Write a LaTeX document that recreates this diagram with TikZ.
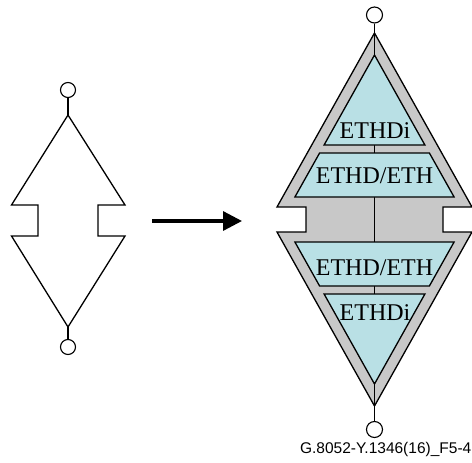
\documentclass[tikz,border=0pt]{standalone}
\usepackage{fontspec}
\setmainfont{Liberation Serif}
\newfontfamily\capfont{Liberation Sans}
\usetikzlibrary{arrows.meta}
\definecolor{bandgray}{RGB}{200,200,200}
\definecolor{layerblue}{RGB}{185,224,229}
\begin{document}
\begin{tikzpicture}[x=1pt,y=-1pt,
  outline/.style={draw=black,line width=1.3pt,line join=miter},
  term/.style={circle,draw=black,line width=1.1pt,fill=white,minimum size=15pt,inner sep=0pt},
  wire/.style={draw=black,line width=1.1pt},
  band/.style={outline,fill=bandgray},
  layer/.style={outline,fill=layerblue},
  lbl/.style={font=\fontsize{24}{24}\selectfont,inner sep=0pt,anchor=base},
  arrowline/.style={line width=3.3pt,-{Triangle[length=19pt,width=19pt]}}]
\useasboundingbox (0,0) rectangle (472,463);

% ---------- left shape ----------
\coordinate (Ltop) at (68,115);
\coordinate (Lbot) at (68,327);
\draw[outline] (Ltop) -- (125,205) -- (98,205) -- (98,236) -- (125,236) -- (Lbot)
  -- (11.5,236) -- (38,236) -- (38,205) -- (11.5,205) -- cycle;
\node[term] (Lc1) at (68,90) {};
\node[term] (Lc2) at (68,347) {};
\draw[wire] (Lc1) -- (Ltop);
\draw[wire] (Lbot) -- (Lc2);

% ---------- arrow ----------
\coordinate (As) at (152,221);
\coordinate (Ae) at (242,221);
\draw[arrowline] (As) -- (Ae);

% ---------- right shape ----------
\coordinate (Rtop) at (374.5,33);
\coordinate (Rbot) at (374.5,406);
\draw[band] (Rtop) -- (472,207) -- (443,207) -- (443,232) -- (472,232) -- (Rbot)
  -- (277,232) -- (306,232) -- (306,207) -- (277,207) -- cycle;
\node[term,minimum size=16pt] (Rc1) at (374.5,15) {};
\node[term,minimum size=16pt] (Rc2) at (374.5,429.5) {};
\draw[wire] (Rc1) -- (Rc2);

% upper layers
\draw[layer] (374.5,55) -- (424.9,145) -- (324.1,145) -- cycle;
\draw[layer] (319.6,153) -- (429.4,153) -- (454.1,197) -- (294.9,197) -- cycle;
% lower layers
\draw[layer] (294.9,242) -- (454.1,242) -- (429.4,286) -- (319.6,286) -- cycle;
\draw[layer] (324.1,294) -- (424.9,294) -- (374.5,384) -- cycle;

\node[lbl] (t1) at (375,138) {ETHDi};
\node[lbl] (t2) at (374.5,183) {ETHD/ETH};
\node[lbl] (t3) at (374.5,275) {ETHD/ETH};
\node[lbl] (t4) at (375,320) {ETHDi};

\node[font=\capfont\fontsize{15.5}{15.5}\selectfont,inner sep=0pt,anchor=base east] (cap) at (471.5,453) {G.8052-Y.1346(16)\_F5-4};
\end{tikzpicture}
\end{document}
